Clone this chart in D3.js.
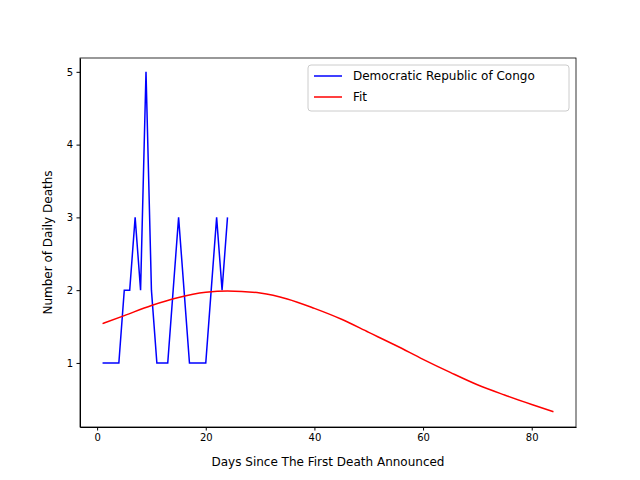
<!DOCTYPE html>
<html><head><meta charset="utf-8">
<script src="https://cdn.jsdelivr.net/npm/d3@7"></script>
<style>body{margin:0;background:#fff}text{font-family:"DejaVu Sans",sans-serif}</style>
</head><body>
<svg id="chart" width="640" height="480"></svg>
<script>
// Data
const days = [1,2,3,4,5,6,7,8,9,10,11,12,13,14,15,16,17,18,19,20,21,22,23,24];
const deaths = [1,1,1,1,2,2,3,2,5,2,1,1,1,2,3,2,1,1,1,1,2,3,2,3];
const fitDays = [1,5,10,15,20,24,30,35,40,45,50,55,60,65,70,75,80,84];
const fitVals = [1.54,1.65,1.79,1.90,1.97,1.99,1.96,1.88,1.75,1.60,1.42,1.24,1.05,0.87,0.70,0.56,0.43,0.33];
const xTicks = [0,20,40,60,80];
const yTicks = [1,2,3,4,5];

const svg = d3.select('#chart');
const m = { left: 80, right: 64, top: 58, bottom: 53 };
const W = 640, H = 480;

const mapX = d3.scaleLinear().domain([-3.15, 88.15]).range([m.left, W - m.right]);
const mapY = d3.scaleLinear().domain([0.12, 5.19]).range([H - m.bottom, m.top]);

svg.append('g')
    .attr('transform', `translate(0, ${H - m.bottom})`)
    .call(d3.axisBottom(mapX).tickValues(xTicks).tickFormat(d3.format('d'))
        .tickSizeInner(3.5).tickSizeOuter(0).tickPadding(3.5))
    .call(g => g.selectAll('text').attr('font-size', 10).attr('fill', '#000'));
svg.append('g')
    .attr('transform', `translate(${m.left}, 0)`)
    .call(d3.axisLeft(mapY).tickValues(yTicks).tickFormat(d3.format('d'))
        .tickSizeInner(3.5).tickSizeOuter(0).tickPadding(3.5))
    .call(g => g.selectAll('text').attr('font-size', 10).attr('fill', '#000'));
svg.append('rect')
    .attr('x', m.left).attr('y', m.top)
    .attr('width', W - m.left - m.right).attr('height', H - m.top - m.bottom)
    .attr('fill', 'none').attr('stroke', '#000').attr('stroke-width', 0.8);

svg.append('text').attr('x', (m.left + W - m.right) / 2).attr('y', 466)
    .attr('text-anchor', 'middle').attr('font-size', 12).text('Days Since The First Death Announced');
svg.append('text').attr('transform', `translate(52, ${(m.top + H - m.bottom) / 2}) rotate(-90)`)
    .attr('text-anchor', 'middle').attr('font-size', 12).text('Number of Daily Deaths');

const line = d3.line().x(d => mapX(d[0])).y(d => mapY(d[1]));
svg.append('path').datum(days.map((d, i) => [d, deaths[i]]))
    .attr('fill', 'none').attr('stroke', 'blue').attr('stroke-width', 1.5).attr('d', line);
svg.append('path').datum(fitDays.map((d, i) => [d, fitVals[i]]))
    .attr('fill', 'none').attr('stroke', 'red').attr('stroke-width', 1.5)
    .attr('d', line.curve(d3.curveMonotoneX));

// Legend
const lg = svg.append('g').attr('transform', 'translate(308, 65)');
lg.append('rect').attr('width', 261).attr('height', 46).attr('rx', 3)
    .attr('fill', '#fff').attr('stroke', '#ccc');
[['Democratic Republic of Congo', 'blue'], ['Fit', 'red']].forEach(([t, c], i) => {
    const y = 11 + i * 21;
    lg.append('line').attr('x1', 6).attr('x2', 34).attr('y1', y).attr('y2', y)
        .attr('stroke', c).attr('stroke-width', 1.5);
    lg.append('text').attr('x', 45).attr('y', y + 4).attr('font-size', 12).text(t);
});
</script>
</body></html>
